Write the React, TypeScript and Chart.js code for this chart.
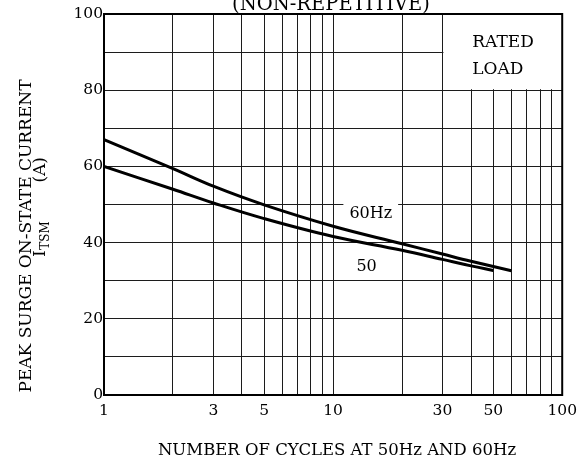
import React, { useEffect, useRef } from 'react';
import { Chart, registerables } from 'chart.js';

Chart.register(...registerables);

// Data
const cycles60 = [1, 2, 3, 5, 10, 20, 30, 40, 60];
const itsm60 = [67, 59.4, 54.8, 49.9, 44.3, 39.7, 37.0, 35.1, 32.6];
const cycles50 = [1, 2, 3, 5, 10, 20, 30, 40, 50];
const itsm50 = [60, 54, 50.4, 46.3, 41.6, 38.0, 35.6, 33.9, 32.7];

const xGridValues = [1, 2, 3, 4, 5, 6, 7, 8, 9, 10, 20, 30, 40, 50, 60, 70, 80, 90, 100];
const xTickLabels = [1, 3, 5, 10, 30, 50, 100];
const yTickLabels = [0, 20, 40, 60, 80, 100];

const SERIF = '"DejaVu Serif", "Liberation Serif", serif';
const INK = '#000';

export default function App() {
  const ref = useRef<HTMLCanvasElement>(null);

  useEffect(() => {
    const canvas = ref.current;
    if (!canvas) return;

    const annot = {
      id: 'annot',
      beforeDatasetsDraw(chart: any) {
        const c = chart.ctx;
        const xs = chart.scales.x;
        const ys = chart.scales.y;
        const a = chart.chartArea;
        // "RATED LOAD" box: white area hiding the grid
        const bx = xs.getPixelForValue(30);
        const by = ys.getPixelForValue(80);
        c.save();
        c.fillStyle = '#fff';
        c.fillRect(bx + 1, a.top, a.right - bx - 1, by - a.top - 1);
        c.restore();
      },
      afterDraw(chart: any) {
        const c = chart.ctx;
        const xs = chart.scales.x;
        const ys = chart.scales.y;
        const a = chart.chartArea;
        c.save();
        // plot frame
        c.strokeStyle = INK;
        c.lineWidth = 2;
        c.strokeRect(a.left, a.top, a.right - a.left, a.bottom - a.top);

        c.fillStyle = INK;
        // cut-off title at the very top
        c.font = `19.5px ${SERIF}`;
        c.textAlign = 'center';
        c.textBaseline = 'alphabetic';
        c.fillText('(NON-REPETITIVE)', 331, 10);

        // x-axis title
        c.font = `16.5px ${SERIF}`;
        c.fillText('NUMBER OF CYCLES AT 50Hz AND 60Hz', 337, 455);

        // RATED LOAD
        c.font = `17px ${SERIF}`;
        c.textAlign = 'left';
        const rx = xs.getPixelForValue(40.5);
        c.fillText('RATED', rx, ys.getPixelForValue(100) + 33);
        c.fillText('LOAD', rx, ys.getPixelForValue(100) + 60);

        // curve labels
        c.font = `16px ${SERIF}`;
        c.textAlign = 'center';
        const lx = xs.getPixelForValue(14.6);
        const ly = ys.getPixelForValue(48);
        const w = c.measureText('60Hz').width;
        c.fillStyle = '#fff';
        c.fillRect(lx - w / 2 - 6, ly - 9, w + 12, 18);
        c.fillStyle = INK;
        c.fillText('60Hz', lx, ly + 6);
        c.fillText('50', xs.getPixelForValue(14.0), ys.getPixelForValue(34.1) + 6);

        // y-axis title (two rotated lines)
        c.save();
        c.translate(31, 236);
        c.rotate(-Math.PI / 2);
        c.font = `17px ${SERIF}`;
        c.textAlign = 'center';
        c.textBaseline = 'alphabetic';
        c.fillText('PEAK SURGE ON-STATE CURRENT', 0, 0);
        c.restore();

        c.save();
        c.translate(45, 207);
        c.rotate(-Math.PI / 2);
        c.textBaseline = 'alphabetic';
        c.textAlign = 'left';
        c.font = `17px ${SERIF}`;
        c.fillText('I', -50, 0);
        const iw = c.measureText('I').width;
        c.font = `12px ${SERIF}`;
        c.fillText('TSM', -50 + iw + 0.5, 4);
        c.font = `17px ${SERIF}`;
        c.textAlign = 'right';
        c.fillText('(A)', 50, 0);
        c.restore();

        c.restore();
      },
    };

    const lineStyle = {
      borderColor: INK,
      borderWidth: 3,
      pointRadius: 0,
      fill: false,
      tension: 0.4,
    };

    const chart = new Chart(canvas, {
      type: 'line',
      data: {
        datasets: [
          { label: '60Hz', data: cycles60.map((x, i) => ({ x, y: itsm60[i] })), ...lineStyle },
          { label: '50Hz', data: cycles50.map((x, i) => ({ x, y: itsm50[i] })), ...lineStyle },
        ],
      },
      options: {
        responsive: false,
        animation: false,
        layout: { padding: { top: 14, right: 21, left: 0, bottom: 0 } },
        plugins: {
          legend: { display: false },
          tooltip: { enabled: false },
          title: { display: false },
        },
        scales: {
          x: {
            type: 'logarithmic',
            min: 1,
            max: 100,
            afterBuildTicks: (s: any) => {
              s.ticks = xGridValues.map((v) => ({ value: v }));
            },
            afterFit: (s: any) => {
              s.height = 66;
            },
            ticks: {
              autoSkip: false,
              maxRotation: 0,
              minRotation: 0,
              padding: 7,
              color: INK,
              font: { family: SERIF, size: 15.5 },
              callback: (v: any) => (xTickLabels.includes(Number(v)) ? String(v) : ''),
            },
            grid: { color: '#1c1c1c', lineWidth: 1, drawTicks: false },
            border: { display: true, color: INK, width: 2 },
          },
          y: {
            type: 'linear',
            min: 0,
            max: 100,
            afterFit: (s: any) => {
              s.width = 104;
            },
            ticks: {
              stepSize: 10,
              padding: 1,
              color: INK,
              font: { family: SERIF, size: 15.5 },
              callback: (v: any) => (yTickLabels.includes(Number(v)) ? String(v) : ''),
            },
            grid: { color: '#1c1c1c', lineWidth: 1, drawTicks: false },
            border: { display: true, color: INK, width: 2 },
          },
        },
      } as any,
      plugins: [annot],
    });

    return () => chart.destroy();
  }, []);

  return (
    <div style={{ position: 'absolute', left: 0, top: 0, width: 584, height: 461, background: '#fff' }}>
      <canvas ref={ref} width={584} height={461} style={{ display: 'block' }} />
    </div>
  );
}
